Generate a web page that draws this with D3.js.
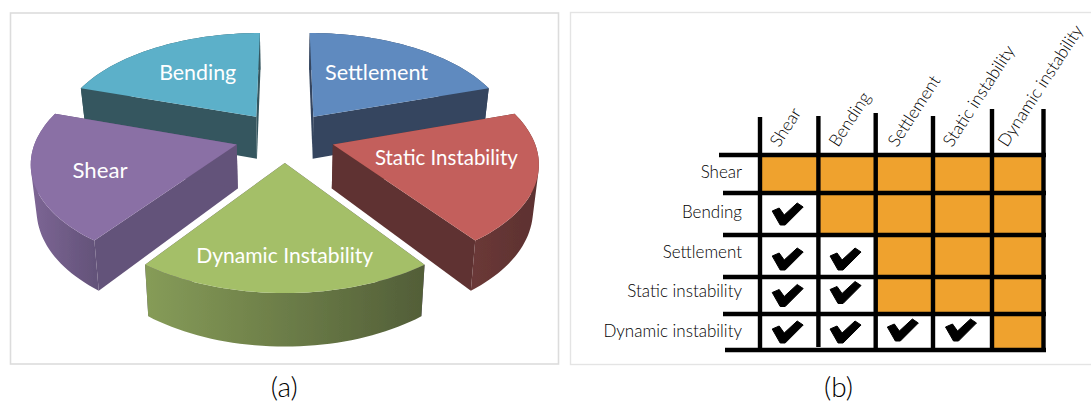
<!DOCTYPE html>
<html><head><meta charset="utf-8">
<script src="https://cdn.jsdelivr.net/npm/d3@7/dist/d3.min.js"></script>
<style>html,body{margin:0;padding:0;background:#fff}svg{display:block}text{font-family:Lato,"Open Sans",sans-serif}</style>
</head><body>
<script>
// ---------- data ----------
const sliceNames = ["Settlement","Static Instability","Dynamic Instability","Shear","Bending"];
const sliceValues = [20,20,20,20,20];
const topColors = ["#5F8ABF","#C35F5B","#A4BF68","#8A6FA5","#5BB0C9"];
const wallColors = ["#34455F","#5F3332","#64537A","#64537A","#35565F"];
const outerLight = ["#34455F","#6A3837","#869C58","#7D6695","#35565F"];
const outerDark  = ["#34455F","#5C3130","#525E38","#64537A","#35565F"];
const drawOrder = ["Bending","Settlement","Shear","Static Instability","Dynamic Instability"];
const matrixNames = ["Shear","Bending","Settlement","Static instability","Dynamic instability"];
const columnNames = ["Shear","Bending","Settlement","Static instability","Dynamic instability"];
// 1 = check mark, 0 = shaded cell
const matrixCells = [
  [0,0,0,0,0],
  [1,0,0,0,0],
  [1,1,0,0,0],
  [1,1,0,0,0],
  [1,1,1,1,0]
];
const captions = ["(a)","(b)"];

// ---------- layout ----------
const W=1091,H=403;
const svg=d3.select("body").append("svg").attr("width",W).attr("height",H);
const defs=svg.append("defs");
const soft=defs.append("filter").attr("id","soft").attr("x","-5%").attr("y","-5%").attr("width","110%").attr("height","110%");
soft.append("feGaussianBlur").attr("stdDeviation",0.45);

svg.append("rect").attr("x",10.5).attr("y",13).attr("width",548).attr("height",351).attr("fill","#fff").attr("stroke","#dcdcdc").attr("stroke-width",1.6);
svg.append("rect").attr("x",570.5).attr("y",12.5).attr("width",530).attr("height",352).attr("fill","#fff").attr("stroke","#e4e4e4").attr("stroke-width",1.4);

// ---------- perspective pie ----------
const P={cx:284.8,cy:136.6,a:200,b:101.7,q:0.15,e:0.25,h:43.5,s:0.023};
function project(u,v,z){
  const w=1-P.q*v;
  return [P.cx+(P.a*u/w)*(1-P.s*z), P.cy+P.b*v/w+z*P.h/w];
}
const pie=d3.pie().sort(null).startAngle(0).endAngle(2*Math.PI);
const arcs=pie(sliceValues);
const line=d3.line();
const gPie=svg.append("g").attr("filter","url(#soft)");
const order=drawOrder.map(n=>sliceNames.indexOf(n));
order.forEach(i=>{
  const d=arcs[i],mid=(d.startAngle+d.endAngle)/2;
  const ox=P.e*Math.sin(mid),oy=-P.e*Math.cos(mid);
  const at=a=>[ox+Math.sin(a),oy-Math.cos(a)];
  const angs=d3.range(0,41).map(t=>d.startAngle+(d.endAngle-d.startAngle)*t/40);
  const rim=angs.map(at);
  const apex=[ox,oy];
  const gid="wall"+i;
  const xs=rim.map(p=>project(p[0],p[1],0)[0]);
  const g=defs.append("linearGradient").attr("id",gid).attr("gradientUnits","userSpaceOnUse")
    .attr("x1",d3.min(xs)).attr("x2",d3.max(xs)).attr("y1",0).attr("y2",0);
  g.append("stop").attr("offset","0").attr("stop-color",outerLight[i]);
  g.append("stop").attr("offset","1").attr("stop-color",outerDark[i]);
  const quad=(a,b)=>{
    const q=[project(a[0],a[1],0),project(b[0],b[1],0),project(b[0],b[1],1),project(a[0],a[1],1)];
    return d3.polygonArea(q)<0?q.reverse():q;
  };
  const wall=(a,b)=>line(quad(a,b))+"Z";
  gPie.append("path").attr("d",wall(apex,rim[0])).attr("fill",wallColors[i]);
  gPie.append("path").attr("d",wall(apex,rim[40])).attr("fill",wallColors[i]);
  gPie.append("path").attr("d",d3.pairs(rim).map(([p,q])=>wall(p,q)).join("")).attr("fill",`url(#${gid})`);
  const top=[project(apex[0],apex[1],0)].concat(rim.map(p=>project(p[0],p[1],0)));
  gPie.append("path").attr("d",line(top)+"Z").attr("fill",topColors[i]);
});
const labelSpots={"Bending":[197.7,80],"Settlement":[376.6,80],"Shear":[100,178],"Static Instability":[446.4,165],"Dynamic Instability":[284.7,263]};
const labelWidths={"Bending":77,"Settlement":103,"Shear":55,"Static Instability":143,"Dynamic Instability":177};
svg.append("g").selectAll("text").data(sliceNames).join("text")
  .attr("x",d=>labelSpots[d][0]).attr("y",d=>labelSpots[d][1])
  .attr("text-anchor","middle").attr("font-size",21).attr("font-weight",400).attr("fill","#fff")
  .attr("textLength",d=>labelWidths[d]).attr("lengthAdjust","spacingAndGlyphs").text(d=>d);

// ---------- matrix ----------
const colEdges=[760,818.4,875.7,933,992,1043.5];
const rowEdges=[155,193,235,277,314,350];
const idx=d3.range(6);
const xE=d3.scaleLinear().domain(idx).range(colEdges);
const yE=d3.scaleLinear().domain(idx).range(rowEdges);
const gM=svg.append("g").attr("filter","url(#soft)");
const cells=matrixCells.flatMap((r,i)=>r.map((v,j)=>({i,j,v})));
gM.selectAll("rect").data(cells.filter(d=>!d.v)).join("rect")
  .attr("x",d=>xE(d.j)).attr("y",d=>yE(d.i))
  .attr("width",d=>xE(d.j+1)-xE(d.j)).attr("height",d=>yE(d.i+1)-yE(d.i))
  .attr("fill","#EFA22E");
const vTops=[117,116,113,116,109,109];
const vBottoms=[350,347,350,350,350,352];
const hLefts=[719,723,723,723,723,725];
gM.selectAll("line.v").data(idx).join("line").attr("class","v")
  .attr("x1",xE).attr("x2",xE).attr("y1",d=>vTops[d]).attr("y2",d=>vBottoms[d])
  .attr("stroke","#000").attr("stroke-width",4.4);
gM.selectAll("line.h").data(idx).join("line").attr("class","h")
  .attr("x1",d=>hLefts[d]).attr("x2",1046).attr("y1",yE).attr("y2",yE)
  .attr("stroke","#000").attr("stroke-width",4.4);
const checkPath="M-15,-3L-8,-6L-3,1L10,-11L16,-7L-2,11L-7,11Z";
const checkNudge=cells.filter(d=>d.v).map(d=>(d.i===2?3:(d.i===3&&d.j===1?-3:(d.i===4&&d.j>1?-2:0))));
gM.selectAll("path.c").data(cells.filter(d=>d.v)).join("path").attr("class","c")
  .attr("d",checkPath).attr("fill","#000")
  .attr("stroke","#000").attr("stroke-width",1).attr("stroke-linejoin","round")
  .attr("transform",(d,k)=>`translate(${(xE(d.j)+xE(d.j+1))/2-2},${(yE(d.i)+yE(d.i+1))/2+checkNudge[k]})`);

const rowY=d3.scaleLinear().domain([0,4]).range([178,337]);
svg.append("g").selectAll("text").data(matrixNames).join("text")
  .attr("x",742).attr("y",(d,i)=>rowY(i)).attr("text-anchor","end")
  .attr("font-size",17).attr("font-weight",300).attr("fill","#000").text(d=>d);
const colStart=[779,838,897,952,1007];
svg.append("g").selectAll("text").data(columnNames).join("text")
  .attr("transform",(d,i)=>`translate(${colStart[i]},148) rotate(-57)`)
  .attr("font-size",17.3).attr("font-weight",300).attr("fill","#000").text(d=>d);

// ---------- captions ----------
const capX=[284.3,838.5];
svg.append("g").selectAll("text").data(captions).join("text")
  .attr("x",(d,i)=>capX[i]).attr("y",397).attr("text-anchor","middle")
  .attr("font-size",28).attr("font-weight",300).attr("fill","#000").text(d=>d);
</script>
</body></html>
